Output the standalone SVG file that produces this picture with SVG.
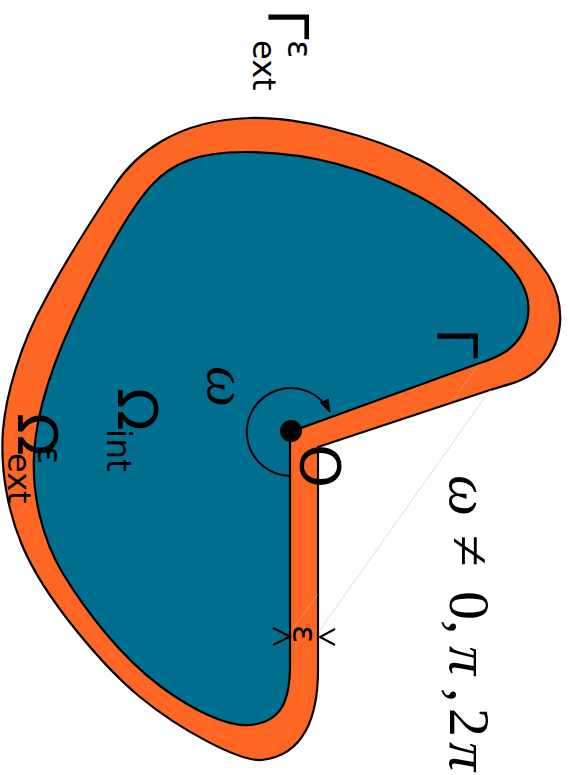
<svg xmlns="http://www.w3.org/2000/svg" width="569" height="775" viewBox="0 0 569 775">
  <defs>
    <style>
      .sans { font-family: "DejaVu Sans", "Liberation Sans", sans-serif; fill: #000; }
      .math { font-family: "Liberation Serif", "DejaVu Serif", serif; fill: #000; }
      .it { font-style: italic; }
      .edge { stroke: #000; stroke-width: 2.2; stroke-linejoin: round; }
      .chev { fill: none; stroke: #000; stroke-width: 2; }
    </style>
    <marker id="arrowhead" viewBox="0 0 14 10" refX="13" refY="5" markerWidth="14" markerHeight="10" markerUnits="userSpaceOnUse" orient="auto">
      <path d="M0,0 L14,5 L0,10 Z" fill="#000"/>
    </marker>
  </defs>
  <rect width="569" height="775" fill="#fff"/>

  <g id="omega-ext-region">
    <path class="edge" fill="#fe6624" d="M318,447 L318,670 C318,715 305,755 262,760 C240,762 180,730 140,697 C105,668 45,600 22,545 C8,512 0,470 3,430 C6,395 20,345 45,300 C65,262 95,215 115,185 C135,155 175,120 250,118 C300,117 370,135 420,160 C470,185 525,240 548,275 C566,305 566,345 535,372 C520,383 505,385 490,390 Z"/>
  </g>

  <g id="connectors">
    <path d="M480,363 L453,400 M318,594 L290,633" fill="none" stroke="#d8a383" stroke-width="0.7"/>
    <path d="M490,390 L320,630" fill="none" stroke="#ffc2a6" stroke-width="0.7"/>
  </g>

  <g id="omega-int-region">
    <path class="edge" fill="#006f8f" d="M290,432 L290,665 C290,700 282,722 250,725 C225,727 190,708 160,686 C120,656 85,610 62,572 C42,538 32,495 34,455 C36,410 55,355 85,295 C105,255 130,210 150,187 C172,162 200,152 245,152 C310,152 370,170 420,197 C455,216 505,255 520,280 C535,305 530,335 505,352 C497,357 490,360 480,363 Z"/>
  </g>

  <g id="angle-connectors">
    <path d="M291,476 A44,44 0 1 1 330,412" fill="none" stroke="#000" stroke-width="2" marker-end="url(#arrowhead)"/>
    <path class="chev" d="M273,628 L290,636.5 L273,645"/>
    <path class="chev" d="M335,629 L320,637 L335,645"/>
  </g>

  <g id="corner-point">
    <circle cx="291" cy="431" r="11" fill="#000"/>
  </g>

  <g id="label-gamma-ext">
    <text class="sans" font-size="55" transform="translate(269,0) rotate(90)" x="9" y="0">Γ</text>
    <text class="sans" font-size="34" transform="translate(288,0) rotate(90)" x="40" y="0">ε</text>
    <text class="sans" font-size="32" transform="translate(253,0) rotate(90)" x="40" y="0">ext</text>
  </g>

  <g id="label-gamma">
    <text class="sans" font-size="55" transform="translate(438,0) rotate(90)" x="328" y="0">Γ</text>
  </g>

  <g id="label-omega-int">
    <text class="sans" font-size="56" transform="translate(118,0) rotate(90)" x="388" y="0">Ω</text>
    <text class="sans" font-size="33" transform="translate(107,0) rotate(90)" x="429" y="0">int</text>
  </g>

  <g id="label-omega-ext">
    <text class="sans" font-size="56" transform="translate(18,0) rotate(90)" x="413" y="0">Ω</text>
    <text class="sans" font-size="34" transform="translate(38,0) rotate(90)" x="446" y="0">ε</text>
    <text class="sans" font-size="32" transform="translate(8,0) rotate(90)" x="453" y="0">ext</text>
  </g>

  <g id="label-origin">
    <text class="sans" font-size="56" transform="translate(301,0) rotate(90)" x="444" y="0">O</text>
  </g>

  <g id="label-epsilon">
    <text class="sans" font-size="34" transform="translate(293,0) rotate(90)" x="625" y="0">ε</text>
  </g>

  <g id="label-angle">
    <text class="math it" font-size="58" transform="translate(208,0) rotate(90)" x="366" y="0">ω</text>
  </g>

  <g id="label-condition">
    <text class="math" font-size="58" transform="translate(450,0) rotate(90)" y="0"><tspan class="it" x="475">ω</tspan><tspan x="535">≠</tspan><tspan x="591">0</tspan><tspan x="620">,</tspan><tspan class="it" x="646">π</tspan><tspan x="688">,</tspan><tspan x="708">2</tspan><tspan class="it" x="742">π</tspan></text>
  </g>
</svg>
